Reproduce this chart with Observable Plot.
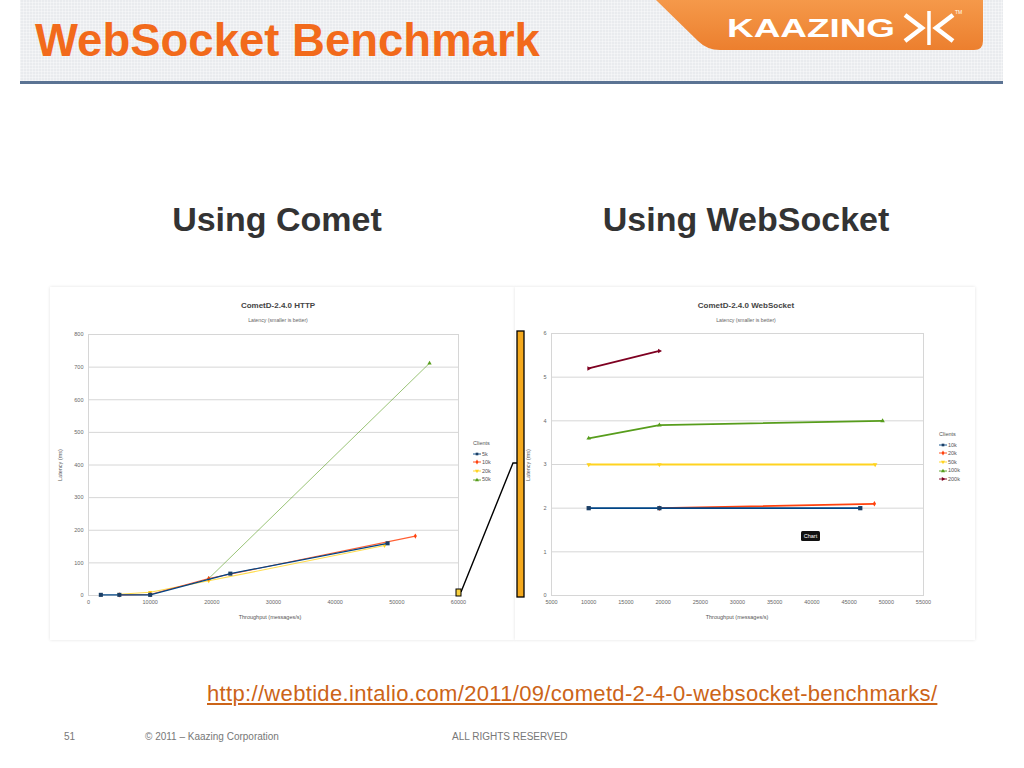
<!DOCTYPE html>
<html>
<head>
<meta charset="utf-8">
<script src="https://cdn.jsdelivr.net/npm/d3@7"></script>
<script src="https://cdn.jsdelivr.net/npm/@observablehq/plot@0.6"></script>
<style>
  body { margin: 0; background: #fff; }
  #slide { position: relative; width: 1024px; height: 768px; overflow: hidden; background: #fff;
           font-family: "Liberation Sans", Arial, sans-serif; }
  .abs { position: absolute; }
  #header { left: 20px; top: 0; width: 983px; height: 81px; background-color: #e9ebee;
            background-image: repeating-linear-gradient(0deg, rgba(255,255,255,0.35) 0 1px, transparent 1px 3px),
                              repeating-linear-gradient(90deg, rgba(255,255,255,0.35) 0 1px, transparent 1px 3px); }
  #rule { left: 20px; top: 81px; width: 983px; height: 3px; background: #5b7393; }
  #title { left: 35px; top: 15px; font-size: 45.5px; font-weight: bold; color: #f26a1b; white-space: nowrap; }
  .sub { top: 200px; font-size: 34px; font-weight: bold; color: #333; white-space: nowrap; transform: translateX(-50%); }
  .panel { background: #fff; box-shadow: 0 0 3px rgba(0,0,0,0.12); }
  .ctitle { font-size: 8px; font-weight: bold; color: #444; white-space: nowrap; transform: translateX(-50%); }
  .csub { font-size: 5.2px; color: #666; white-space: nowrap; transform: translateX(-50%); }
  .axlab { font-size: 5.5px; color: #555; white-space: nowrap; }
  .legend { font-size: 5.5px; color: #555; line-height: 8.6px; }
  .legend .row { display: flex; align-items: center; height: 8.6px; }
  #link { left: 207px; top: 681px; font-size: 22px; letter-spacing: 0.33px; color: #cc6418; text-decoration: underline; white-space: nowrap; }
  .foot { top: 731px; font-size: 10px; color: #777; white-space: nowrap; }
</style>
</head>
<body>
<div id="slide">
  <div id="header" class="abs"></div>
  <div id="rule" class="abs"></div>
  <svg class="abs" style="left:0;top:0" width="1024" height="60">
    <defs>
      <linearGradient id="og" x1="0" y1="0" x2="0" y2="1">
        <stop offset="0" stop-color="#f5994a"/>
        <stop offset="1" stop-color="#ec7f2e"/>
      </linearGradient>
    </defs>
    <path d="M656,0 L983,0 L983,41 Q983,50 974,50 L720,50 Q707,50 698,41 Z" fill="url(#og)"/>
    <text x="727" y="37" font-family="Liberation Sans, Arial, sans-serif" font-weight="bold" font-size="25"
          fill="#fff" textLength="168" lengthAdjust="spacingAndGlyphs">KAAZING</text>
    <polyline points="905,15 922,28 905,41" fill="none" stroke="#fff" stroke-width="4.5"/>
    <line x1="929" y1="11" x2="929" y2="45" stroke="#fff" stroke-width="3.5"/>
    <polyline points="953,15 936,28 953,41" fill="none" stroke="#fff" stroke-width="4.5"/>
    <text x="955" y="14" font-family="Liberation Sans, Arial, sans-serif" font-size="5" fill="#fff">TM</text>
  </svg>
  <div id="title" class="abs">WebSocket Benchmark</div>
  <div class="abs sub" style="left:277px">Using Comet</div>
  <div class="abs sub" style="left:746px">Using WebSocket</div>

  <div class="abs panel" style="left:50px;top:287px;width:465px;height:353px"></div>
  <div class="abs panel" style="left:515px;top:287px;width:460px;height:353px"></div>

  <div id="leftChart" class="abs" style="left:50px;top:290px"></div>
  <div id="rightChart" class="abs" style="left:515px;top:290px"></div>

  <div class="abs ctitle" style="left:278px;top:301px">CometD-2.4.0 HTTP</div>
  <div class="abs csub" style="left:278px;top:317px">Latency (smaller is better)</div>
  <div class="abs ctitle" style="left:746px;top:301px">CometD-2.4.0 WebSocket</div>
  <div class="abs csub" style="left:746px;top:317px">Latency (smaller is better)</div>

  <div class="abs axlab" style="left:60px;top:465px;transform:translate(-50%,-50%) rotate(-90deg)">Latency (ms)</div>
  <div class="abs axlab" style="left:270px;top:614px;transform:translateX(-50%)">Throughput (messages/s)</div>
  <div class="abs axlab" style="left:528px;top:465px;transform:translate(-50%,-50%) rotate(-90deg)">Latency (ms)</div>
  <div class="abs axlab" style="left:737px;top:614px;transform:translateX(-50%)">Throughput (messages/s)</div>

  <div id="leftLegend" class="abs legend" style="left:473px;top:439px"></div>
  <div id="rightLegend" class="abs legend" style="left:939px;top:430px"></div>

  <svg class="abs" style="left:0;top:0;pointer-events:none" width="1024" height="768">
    <polyline points="461,592 513,463 518,463" fill="none" stroke="#000" stroke-width="1.4"/>
    <rect x="456" y="589" width="5" height="7" fill="#f7d040" stroke="#000" stroke-width="1"/>
    <rect x="517" y="331" width="7" height="266" fill="#f4a91d" stroke="#000" stroke-width="1.3"/>
    <rect x="801" y="531" width="19" height="10" rx="1.5" fill="#111"/>
    <text x="810.5" y="538" text-anchor="middle" font-family="Liberation Sans, Arial, sans-serif" font-size="5.5" fill="#fff">Chart</text>
  </svg>

  <div id="link" class="abs">http://webtide.intalio.com/2011/09/cometd-2-4-0-websocket-benchmarks/</div>
  <div class="abs foot" style="left:64px">51</div>
  <div class="abs foot" style="left:145px">© 2011 – Kaazing Corporation</div>
  <div class="abs foot" style="left:452px">ALL RIGHTS RESERVED</div>
</div>

<script>
// ---------- Data: CometD-2.4.0 HTTP ----------
const httpClients = ["5k", "10k", "20k", "50k"];
const httpColors  = ["#004586", "#ff420e", "#ffd320", "#579d1c"];
const httpSymbols = ["square", "diamond", "triangle", "triangle"];
const httpRotate  = [0, 0, 180, 0];
const http5kX  = [2000, 5000, 10000, 23000, 48500];
const http5kY  = [2, 2, 2, 67, 160];
const http10kX = [5000, 10000, 19500, 53000];
const http10kY = [2, 3, 52, 182];
const http20kX = [5000, 10000, 19500, 48000];
const http20kY = [4, 10, 45, 153];
const http50kX = [19500, 55300];
const http50kY = [52, 712];
const httpXTicks = [0, 10000, 20000, 30000, 40000, 50000, 60000];
const httpYTicks = [0, 100, 200, 300, 400, 500, 600, 700, 800];

// ---------- Data: CometD-2.4.0 WebSocket ----------
const wsClients = ["10k", "20k", "50k", "100k", "200k"];
const wsColors  = ["#004586", "#ff420e", "#ffd320", "#579d1c", "#7e0021"];
const wsSymbols = ["square", "diamond", "triangle", "triangle", "triangle"];
const wsRotate  = [0, 0, 180, 0, 90];
const ws10kX  = [10000, 19500, 46500];
const ws10kY  = [2, 2, 2];
const ws20kX  = [19500, 48400];
const ws20kY  = [2.0, 2.1];
const ws50kX  = [10000, 19500, 48500];
const ws50kY  = [3, 3, 3];
const ws100kX = [10000, 19500, 49500];
const ws100kY = [3.6, 3.9, 4.0];
const ws200kX = [10000, 19500];
const ws200kY = [5.2, 5.6];
const wsXTicks = [5000, 10000, 15000, 20000, 25000, 30000, 35000, 40000, 45000, 50000, 55000];
const wsYTicks = [0, 1, 2, 3, 4, 5, 6];

function rows(series, xs, ys) {
  return series.map((s, i) => xs[i].map((x, j) => ({series: s, x, y: ys[i][j]})));
}
const httpRows = rows(httpClients, [http5kX, http10kX, http20kX, http50kX], [http5kY, http10kY, http20kY, http50kY]);
const wsRows = rows(wsClients, [ws10kX, ws20kX, ws50kX, ws100kX, ws200kX], [ws10kY, ws20kY, ws50kY, ws100kY, ws200kY]);

const font = "Liberation Sans, Arial, sans-serif";

function chart(cfg) {
  const seriesMarks = [];
  cfg.order.forEach(i => {
    const data = cfg.rows[i];
    const w = cfg.widths ? cfg.widths[i] : cfg.lineWidth;
    const op = cfg.opacity ? cfg.opacity[i] : 1;
    seriesMarks.push(Plot.line(data, {x: "x", y: "y", stroke: cfg.colors[i], strokeWidth: w, strokeOpacity: op}));
    seriesMarks.push(Plot.dot(data, {x: "x", y: "y", symbol: cfg.symbols[i], rotate: cfg.rotate[i],
      fill: i === 0 ? "#1b3f66" : cfg.colors[i], stroke: "none", r: i === 0 ? cfg.bigR : cfg.smallR}));
  });
  return Plot.plot({
    width: cfg.width, height: cfg.height,
    marginLeft: cfg.ml, marginRight: cfg.mr, marginTop: cfg.mt, marginBottom: cfg.mb,
    style: {fontFamily: font, background: "transparent", color: "#666", overflow: "visible"},
    x: {domain: cfg.xDomain},
    y: {domain: cfg.yDomain},
    marks: [
      Plot.gridY(cfg.yTicks, {stroke: "#d6d6d6", strokeOpacity: 1}),
      Plot.frame({stroke: "#d6d6d6"}),
      Plot.axisY(cfg.yTicks, {tickSize: 0, tickPadding: 5, fontSize: 5.5, label: null, tickFormat: d => String(d), fill: "#666"}),
      Plot.axisX(cfg.xTicks, {tickSize: 0, tickPadding: 5, fontSize: 5.5, label: null, tickFormat: d => String(d), fill: "#666"}),
      ...seriesMarks
    ]
  });
}

document.getElementById("leftChart").append(chart({
  width: 465, height: 350, ml: 38, mr: 57, mt: 44, mb: 45,
  xDomain: [0, 60000], yDomain: [0, 800], xTicks: httpXTicks, yTicks: httpYTicks,
  rows: httpRows, colors: httpColors, symbols: httpSymbols, rotate: httpRotate,
  widths: [1.3, 1.1, 1.1, 1.0], opacity: [1, 0.85, 0.8, 0.6],
  order: [2, 3, 1, 0], lineWidth: 1.2, bigR: 2.3, smallR: 1.6
}));

document.getElementById("rightChart").append(chart({
  width: 460, height: 350, ml: 36, mr: 52, mt: 43, mb: 45,
  xDomain: [5000, 55000], yDomain: [0, 6], xTicks: wsXTicks, yTicks: wsYTicks,
  rows: wsRows, colors: wsColors, symbols: wsSymbols, rotate: wsRotate,
  order: [1, 0, 2, 3, 4], lineWidth: 1.8, bigR: 2.4, smallR: 1.7
}));

function legend(id, series, colors, symbols, rotate) {
  const el = document.getElementById(id);
  const head = document.createElement("div");
  head.textContent = "Clients";
  head.style.marginBottom = "2px";
  el.append(head);
  series.forEach((s, i) => {
    const row = document.createElement("div");
    row.className = "row";
    const sym = d3.symbol(
      {square: d3.symbolSquare, diamond: d3.symbolDiamond, triangle: d3.symbolTriangle}[symbols[i]], 7)();
    row.innerHTML = `<svg width="8" height="6" style="margin-right:1px"><line x1="0" y1="3" x2="8" y2="3" stroke="${colors[i]}" stroke-width="0.9"/>` +
      `<path d="${sym}" transform="translate(4,3) rotate(${rotate[i]})" fill="${i === 0 ? '#1b3f66' : colors[i]}"/></svg><span>${s}</span>`;
    el.append(row);
  });
}
legend("leftLegend", httpClients, httpColors, httpSymbols, httpRotate);
legend("rightLegend", wsClients, wsColors, wsSymbols, wsRotate);
</script>
</body>
</html>
